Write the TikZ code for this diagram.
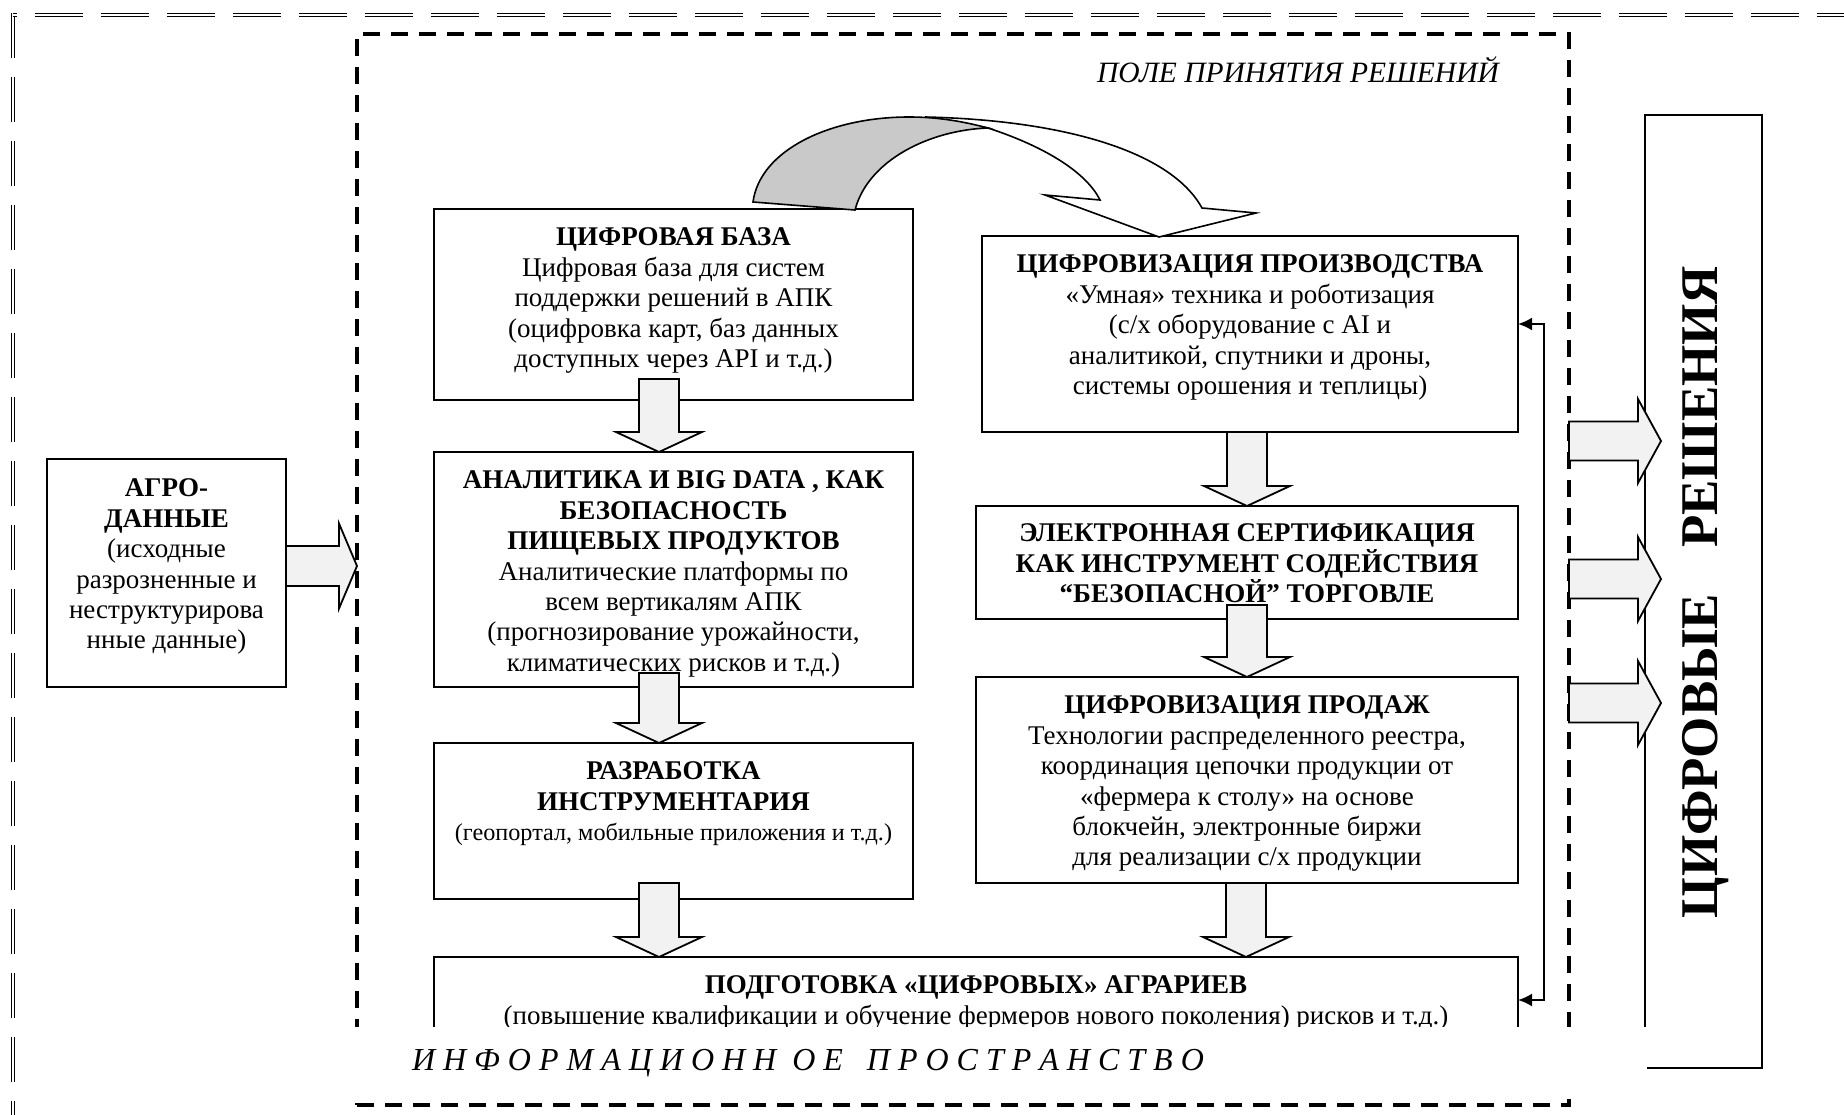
\documentclass[tikz,border=0pt]{standalone}
\usepackage{fontspec}
\setmainfont{Liberation Serif}
\usetikzlibrary{calc,arrows.meta}
\definecolor{bendgray}{gray}{0.79}
\tikzstyle{box} = [draw,line width=1.3pt,anchor=north west]
\tikzstyle{txt} = [align=center,anchor=north,font=\fontsize{27pt}{30.4pt}\selectfont]
\tikzstyle{fat} = [draw,line width=1.8pt,fill=gray!10]
\tikzstyle{field} = [draw,line width=4.5pt,dash pattern=on 17pt off 11pt,anchor=north west]
\tikzstyle{frame} = [double,line width=1.3pt,double distance=2.2pt]
\tikzstyle{link} = [line width=2pt,{Latex[length=14pt,width=13pt]}-{Latex[length=14pt,width=13pt]}]

% wide arrow pointing down: x, from node, overlap, to node
\newcommand{\fatdown}[4]{%
  \path (#1,0 |- #2.south) ++(0,-#3) coordinate (ftop) (#1,0 |- #4.north) coordinate (ftip);
  \draw[fat] ($(ftop)+(-20,0)$) -- ($(ftip)+(-20,-20)$) -- ($(ftip)+(-43,-20)$) -- (ftip)
    -- ($(ftip)+(43,-20)$) -- ($(ftip)+(20,-20)$) -- ($(ftop)+(20,0)$) -- cycle;}
% wide arrow pointing right: start, tip, half shaft, half head, head length
\newcommand{\fatright}[5]{%
  \draw[fat] ($(#1)+(0,-#3)$) -- ($(#2)+(-#5,-#3)$) -- ($(#2)+(-#5,-#4)$) -- (#2)
    -- ($(#2)+(-#5,#4)$) -- ($(#2)+(-#5,#3)$) -- ($(#1)+(0,#3)$) -- cycle;}

\begin{document}
\begin{tikzpicture}[x=1pt,y=-1pt,every node/.style={inner sep=0pt,outer sep=0pt}]
\useasboundingbox (0,0) rectangle (1844,1115);

% outer frame and decision field
\draw[frame,dash pattern=on 45pt off 19pt] (13,13) -- (13,1130);
\draw[frame,dash pattern=on 48pt off 18pt,dash phase=44pt] (13,15) -- (1850,15);
\node[field,minimum width=1212pt,minimum height=1071pt] (field) at (357,34) {};
\node[anchor=base,font=\fontsize{29.5pt}{34pt}\selectfont\itshape] (pole) at (1298,83) {ПОЛЕ ПРИНЯТИЯ РЕШЕНИЙ};

% source data
\node[box,minimum width=239pt,minimum height=228pt] (agro) at (47,459) {};
\node[txt] (agro-t) at ($(agro.north)+(0,20)$) {\textbf{АГРО-}\\\textbf{ДАННЫЕ}\\(исходные\\разрозненные и\\неструктурирова\\нные данные)};

% left column
\node[box,minimum width=479pt,minimum height=191pt] (baza) at (434,209) {};
\node[txt] (baza-t) at ($(baza.north)+(0,19)$) {\textbf{ЦИФРОВАЯ БАЗА}\\Цифровая база для систем\\поддержки решений в АПК\\(оцифровка карт, баз данных\\доступных через API и т.д.)};
\node[box,minimum width=479pt,minimum height=235pt] (anal) at (434,452) {};
\node[txt] (anal-t) at ($(anal.north)+(0,19)$) {\textbf{АНАЛИТИКА И BIG DATA , КАК}\\\textbf{БЕЗОПАСНОСТЬ}\\\textbf{ПИЩЕВЫХ ПРОДУКТОВ}\\Аналитические платформы по\\всем вертикалям АПК\\(прогнозирование урожайности,\\климатических рисков и т.д.)};
\node[box,minimum width=479pt,minimum height=156pt] (razr) at (434,743) {};
\node[txt] (razr-t) at ($(razr.north)+(0,19)$) {\textbf{РАЗРАБОТКА}\\\textbf{ИНСТРУМЕНТАРИЯ}\\{\fontsize{24.2pt}{30.4pt}\selectfont(геопортал, мобильные приложения и т.д.)}};

% right column
\node[box,minimum width=536pt,minimum height=196pt] (prod) at (982,236) {};
\node[txt] (prod-t) at ($(prod.north)+(0,19)$) {\textbf{ЦИФРОВИЗАЦИЯ ПРОИЗВОДСТВА}\\«Умная» техника и роботизация\\(с/х оборудование с AI и\\аналитикой, спутники и дроны,\\системы орошения и теплицы)};
\node[box,minimum width=542pt,minimum height=113pt] (elek) at (976,506) {};
\node[txt,font=\fontsize{27pt}{30.4pt}\selectfont\bfseries] (elek-t) at ($(elek.north)+(0,18)$) {ЭЛЕКТРОННАЯ СЕРТИФИКАЦИЯ\\КАК ИНСТРУМЕНТ СОДЕЙСТВИЯ\\“БЕЗОПАСНОЙ” ТОРГОВЛЕ};
\node[box,minimum width=542pt,minimum height=206pt] (prodazh) at (976,677) {};
\node[txt] (prodazh-t) at ($(prodazh.north)+(0,19)$) {\textbf{ЦИФРОВИЗАЦИЯ ПРОДАЖ}\\Технологии распределенного реестра,\\координация цепочки продукции от\\«фермера к столу» на основе\\блокчейн, электронные биржи\\для реализации с/х продукции};

% bottom
\node[box,minimum width=1084pt,minimum height=110pt] (podg) at (434,957) {};
\node[txt] (podg-t) at ($(podg.north)+(0,19)$) {\textbf{ПОДГОТОВКА «ЦИФРОВЫХ» АГРАРИЕВ}\\(повышение квалификации и обучение фермеров нового поколения) рисков и т.д.)};

% result panel
\node[box,minimum width=117pt,minimum height=953pt] (resh) at (1645,115) {};
\node[rotate=90,anchor=base,font=\fontsize{53pt}{60pt}\selectfont\bfseries] (resh-t) at (1717,592) {ЦИФРОВЫЕ\hspace{33pt} РЕШЕНИЯ};

% wide arrows
\fatdown{659}{baza}{21}{anal}
\fatdown{659}{anal}{14}{razr}
\fatdown{659}{razr}{16}{podg}
\fatdown{1247}{prod}{0}{elek}
\fatdown{1247}{elek}{14}{prodazh}
\fatdown{1246}{prodazh}{0}{podg}

\coordinate (a0) at (agro.east |- 0,566);
\coordinate (b0) at (field.west |- 0,566);
\fatright{a0}{b0}{20}{42.5}{18}
\coordinate (a1) at (field.east |- 0,441);
\coordinate (b1) at ($(resh.west |- 0,441)+(16,0)$);
\fatright{a1}{b1}{19.5}{42}{23}
\coordinate (a2) at (field.east |- 0,579);
\coordinate (b2) at ($(resh.west |- 0,579)+(16,0)$);
\fatright{a2}{b2}{19.5}{42}{23}
\coordinate (a3) at (field.east |- 0,703);
\coordinate (b3) at ($(resh.west |- 0,703)+(16,0)$);
\fatright{a3}{b3}{19.5}{42}{23}

% feedback line
\coordinate (up) at (1544,324);
\coordinate (dn) at (1544,1000);
\draw[link] (prod.east |- up) -- (up) -- (dn) -- (podg.east |- dn);

% curved arrow from base to production
\draw[line width=1.6pt,fill=white] (925,117) .. controls (1060,120) and (1170,150) .. (1202,208)
  -- (1256,213) -- (1159,237) -- (1045,195) -- (1100,200)
  .. controls (1085,170) and (1040,145) .. (988,128) -- cycle;
\draw[line width=1.6pt,fill=bendgray] (753,202) .. controls (760,150) and (830,117) .. (909,117)
  .. controls (940,117) and (965,122) .. (988,128)
  .. controls (930,130) and (868,160) .. (855,210) -- cycle;

% information space
\node[fill=white,minimum width=1307pt,minimum height=72pt,anchor=north west] (info) at (340,1027) {};
\node[anchor=base west,font=\fontsize{32pt}{36pt}\selectfont\itshape] (info-t) at (412,1070) {И Н Ф О Р М А Ц И О Н Н\ \ О Е\ \ \ П Р О С Т Р А Н С Т В О};

\end{tikzpicture}
\end{document}
